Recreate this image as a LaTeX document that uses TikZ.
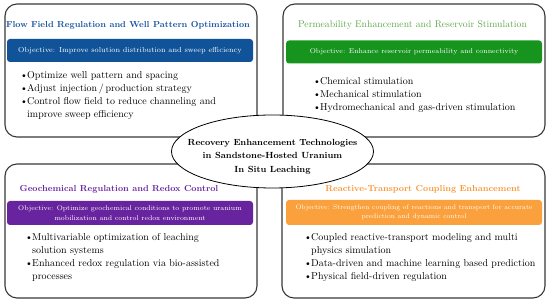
\documentclass[tikz,border=0pt]{standalone}
\usetikzlibrary{positioning,shapes.geometric}
\definecolor{panelGray}{RGB}{55,55,55}
\definecolor{flowBlue}{RGB}{16,83,153}
\definecolor{flowBlueText}{RGB}{22,82,160}
\definecolor{permGreen}{RGB}{22,148,30}
\definecolor{permGreenText}{RGB}{95,168,75}
\definecolor{geoPurple}{RGB}{104,36,158}
\definecolor{rtOrange}{RGB}{250,160,60}
\definecolor{rtOrangeText}{RGB}{247,150,55}
\newcommand{\bdot}{\makebox[7pt][l]{\textbullet}}

\begin{document}
\begin{tikzpicture}[x=1pt,y=1pt,
  panel/.style={draw=panelGray,line width=1.1pt,rounded corners=12pt,minimum height=133pt,inner sep=0pt},
  heading/.style={font=\fontsize{8.7}{10}\selectfont\bfseries,inner sep=0pt},
  banner/.style={rounded corners=3pt,text=white,minimum height=23pt,align=center,inner sep=1pt,
    font=\fontsize{7.3}{9.4}\selectfont},
  bullets/.style={anchor=north west,inner sep=0pt,font=\fontsize{10}{13}\selectfont},
  hub/.style={ellipse,draw=black,line width=0.8pt,fill=white,minimum width=202pt,minimum height=73pt,inner sep=0pt},
  hubtext/.style={align=center,font=\fontsize{8.9}{13.5}\selectfont\bfseries,inner sep=0pt}
]
\useasboundingbox (0,0) rectangle (550,302);

% four panels
\node[panel,minimum width=252pt] (flow) at (131,231.5) {};
\node[panel,minimum width=262pt] (perm) at (414,231.5) {};
\node[panel,minimum width=252pt,minimum height=134pt] (geo) at (131,71) {};
\node[panel,minimum width=263pt,minimum height=134pt] (rt) at (413.5,71) {};

% flow field
\node[heading,text=flowBlueText] (flowTitle) at (128,277) {Flow Field Regulation and Well Pattern Optimization};
\node[banner,fill=flowBlue,minimum width=246pt] (flowGoal) at (130,251.5)
  {Objective: Improve solution distribution and sweep efficiency};
\node[bullets] (flowList) at (20,232.8) {\begin{tabular}{@{}l@{}l@{}}
  \bdot & Optimize well pattern and spacing\\
  \bdot & Adjust injection\,/\,production strategy\\
  \bdot & Control flow field to reduce channeling and\\
        & improve sweep efficiency
  \end{tabular}};

% permeability
\node[heading,font=\fontsize{9.7}{10}\selectfont,text=permGreenText] (permTitle) at (412.5,277)
  {Permeability Enhancement and Reservoir Stimulation};
\node[banner,fill=permGreen,minimum width=256pt,font=\fontsize{7}{9.4}\selectfont] (permGoal) at (414,250)
  {Objective: Enhance reservoir permeability and connectivity};
\node[bullets] (permList) at (313,226.6) {\begin{tabular}{@{}l@{}l@{}}
  \bdot & Chemical stimulation\\
  \bdot & Mechanical stimulation\\
  \bdot & Hydromechanical and gas-driven stimulation
  \end{tabular}};

% geochemical
\node[heading,text=geoPurple] (geoTitle) at (119,113) {Geochemical Regulation and Redox Control};
\node[banner,fill=geoPurple,minimum width=246pt,minimum height=24pt,font=\fontsize{6.9}{9.4}\selectfont] (geoGoal) at (130,89)
  {Objective: Optimize geochemical conditions to promote uranium\\mobilization and control redox environment};
\node[bullets] (geoList) at (25,70.3) {\begin{tabular}{@{}l@{}l@{}}
  \bdot & Multivariable optimization of leaching\\
        & solution systems\\
  \bdot & Enhanced redox regulation via bio-assisted\\
        & processes
  \end{tabular}};

% reactive transport
\node[heading,text=rtOrangeText] (rtTitle) at (423,113) {Reactive-Transport Coupling Enhancement};
\node[banner,fill=rtOrange,minimum width=256pt,minimum height=25pt,font=\fontsize{6.7}{9.4}\selectfont] (rtGoal) at (414,89.5)
  {Objective: Strengthen coupling of reactions and transport for accurate\\prediction and dynamic control};
\node[bullets] (rtList) at (304,70.3) {\begin{tabular}{@{}l@{}l@{}}
  \bdot & Coupled reactive-transport modeling and multi\\
        & physics simulation\\
  \bdot & Data-driven and machine learning based prediction\\
  \bdot & Physical field-driven regulation
  \end{tabular}};

% centre
\node[hub] (core) at (272.5,150.5) {};
\node[hubtext] (coreLabel) at ([yshift=-5pt]core.center)
  {Recovery Enhancement Technologies\\in Sandstone-Hosted Uranium\\In Situ Leaching};
\end{tikzpicture}
\end{document}
